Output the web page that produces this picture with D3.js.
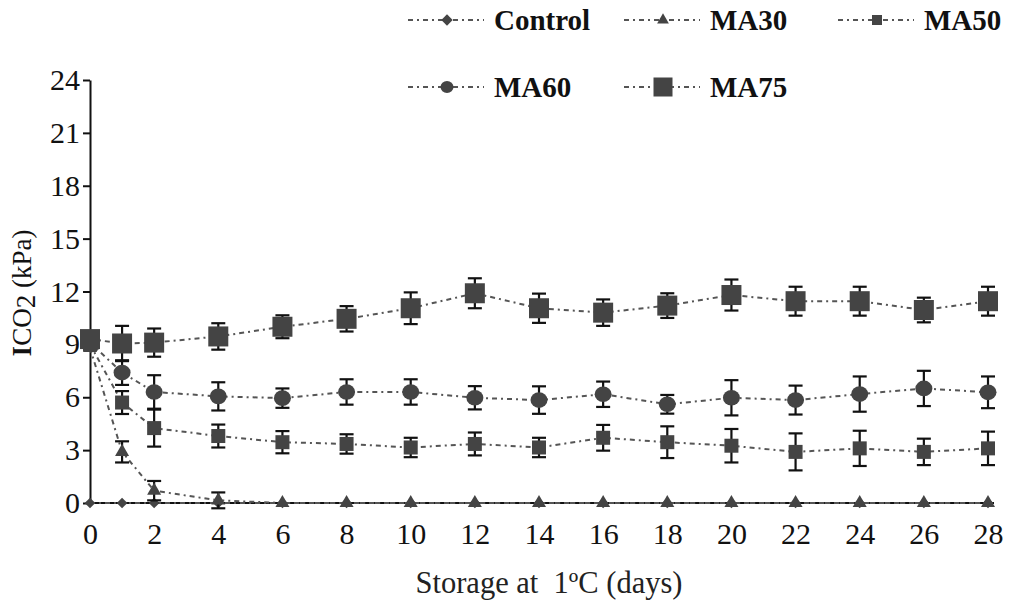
<!DOCTYPE html>
<html>
<head>
<meta charset="utf-8">
<script src="https://cdn.jsdelivr.net/npm/d3@7"></script>
<style>
  body { margin: 0; background: #fff; }
  text { font-family: "Liberation Serif", "DejaVu Serif", serif; }
</style>
</head>
<body>
<div class="chart"></div>
<script>
// dias de almacenamiento
var days = [0, 1, 2, 4, 6, 8, 10, 12, 14, 16, 18, 20, 22, 24, 26, 28];
var yTicks = [0, 3, 6, 9, 12, 15, 18, 21, 24];
var xTicks = [0, 2, 4, 6, 8, 10, 12, 14, 16, 18, 20, 22, 24, 26, 28];

var control = [0, 0, 0, 0, 0, 0, 0, 0, 0, 0, 0, 0, 0, 0, 0, 0];
var controlErr = [0, 0, 0, 0, 0, 0, 0, 0, 0, 0, 0, 0, 0, 0, 0, 0];
var ma30 = [8.8, 2.9, 0.7, 0.15, 0, 0, 0, 0, 0, 0, 0, 0, 0, 0, 0, 0];
var ma30Err = [0, 0.6, 0.55, 0.45, 0, 0, 0, 0, 0, 0, 0, 0, 0, 0, 0, 0];
var ma50 = [9.0, 5.7, 4.25, 3.8, 3.45, 3.35, 3.15, 3.35, 3.15, 3.7, 3.45, 3.25, 2.9, 3.1, 2.9, 3.1];
var ma50Err = [0, 0.65, 1.05, 0.65, 0.63, 0.55, 0.55, 0.65, 0.55, 0.73, 0.9, 0.95, 1.05, 1.0, 0.75, 0.95];
var ma60 = [9.1, 7.4, 6.3, 6.05, 5.95, 6.3, 6.3, 5.97, 5.84, 6.17, 5.6, 5.97, 5.84, 6.18, 6.5, 6.28];
var ma60Err = [0, 0.7, 0.95, 0.8, 0.55, 0.72, 0.72, 0.66, 0.78, 0.72, 0.53, 1.0, 0.82, 1.0, 1.0, 0.9];
var ma75 = [9.3, 9.05, 9.1, 9.45, 10.0, 10.45, 11.05, 11.9, 11.05, 10.8, 11.2, 11.8, 11.45, 11.45, 10.95, 11.45];
var ma75Err = [0, 1.0, 0.8, 0.75, 0.65, 0.72, 0.9, 0.85, 0.83, 0.75, 0.7, 0.88, 0.82, 0.82, 0.7, 0.82];

var width = 1009, height = 604;
var fill = "#444444";
var serif = "'Liberation Serif', 'Times New Roman', serif";

var svg = d3.select(".chart")
  .append("svg")
  .attr("width", width)
  .attr("height", height)
  .style("background", "#ffffff");

var x = d3.scaleLinear().domain([0, 28]).range([90, 988]);
var y = d3.scaleLinear().domain([0, 24]).range([503, 80]);

function sym(type, size) { return d3.symbol().type(type).size(size)(); }

var series = [
  { name: "Control", v: control, e: controlErr, shape: function(g, s) {
      g.append("rect").attr("x", -s/2).attr("y", -s/2).attr("width", s).attr("height", s)
        .attr("transform", "rotate(45)"); }, size: 7.5, legSize: 8 },
  { name: "MA30", v: ma30, e: ma30Err, shape: function(g, s) {
      g.append("path").attr("d", sym(d3.symbolTriangle, s)); }, size: 85, legSize: 60 },
  { name: "MA50", v: ma50, e: ma50Err, shape: function(g, s) {
      g.append("rect").attr("x", -s/2).attr("y", -s/2).attr("width", s).attr("height", s); }, size: 14, legSize: 10 },
  { name: "MA60", v: ma60, e: ma60Err, shape: function(g, s) {
      g.append("ellipse").attr("rx", s).attr("ry", s * 0.92); }, size: 8.5, legSize: 6.5 },
  { name: "MA75", v: ma75, e: ma75Err, shape: function(g, s) {
      g.append("rect").attr("x", -s/2).attr("y", -s/2).attr("width", s).attr("height", s); }, size: 20, legSize: 19 }
];

// ejes
var yAxis = svg.append("g")
  .attr("transform", "translate(90,0)")
  .call(d3.axisLeft(y).tickValues(yTicks).tickSize(7).tickSizeOuter(0).tickPadding(3));
yAxis.select(".domain").attr("stroke", "#111").attr("stroke-width", 2);
yAxis.selectAll(".tick line").attr("stroke", "#111").attr("stroke-width", 2);
yAxis.selectAll(".tick text")
  .style("font-family", serif).style("font-size", "30px").attr("fill", "#111");

var xAxis = svg.append("g")
  .attr("transform", "translate(0,503)")
  .call(d3.axisBottom(x).tickValues(xTicks).tickSize(0).tickSizeOuter(0).tickPadding(20));
xAxis.select(".domain").attr("stroke", "#111").attr("stroke-width", 2)
  .attr("d", "M90,0H994");
xAxis.selectAll(".tick text")
  .style("font-family", serif).style("font-size", "30px").attr("fill", "#111");

// lineas
var line = d3.line()
  .x(function(d) { return x(d[0]); })
  .y(function(d) { return y(d[1]); });

series.forEach(function(s) {
  var pts = days.map(function(d, i) { return [d, s.v[i], s.e[i]]; });
  svg.append("path")
    .datum(pts)
    .attr("d", line)
    .attr("fill", "none")
    .attr("stroke", "#555")
    .attr("stroke-width", 2)
    .attr("stroke-dasharray", "5,4,2,4");
});

series.forEach(function(s) {
  var pts = days.map(function(d, i) { return [d, s.v[i], s.e[i]]; });
  var eb = svg.append("g").selectAll("g")
    .data(pts.filter(function(p) { return p[2] > 0; }))
    .enter().append("g")
    .attr("stroke", "#111").attr("stroke-width", 2.2);
  eb.append("line")
    .attr("x1", function(d) { return x(d[0]); }).attr("x2", function(d) { return x(d[0]); })
    .attr("y1", function(d) { return y(d[1] + d[2]); }).attr("y2", function(d) { return y(d[1] - d[2]); });
  eb.append("line")
    .attr("x1", function(d) { return x(d[0]) - 7; }).attr("x2", function(d) { return x(d[0]) + 7; })
    .attr("y1", function(d) { return y(d[1] + d[2]); }).attr("y2", function(d) { return y(d[1] + d[2]); });
  eb.append("line")
    .attr("x1", function(d) { return x(d[0]) - 7; }).attr("x2", function(d) { return x(d[0]) + 7; })
    .attr("y1", function(d) { return y(d[1] - d[2]); }).attr("y2", function(d) { return y(d[1] - d[2]); });

  var m = svg.append("g").attr("fill", fill).selectAll("g")
    .data(pts)
    .enter().append("g")
    .attr("transform", function(d) { return "translate(" + x(d[0]) + "," + y(d[1]) + ")"; });
  m.each(function() { s.shape(d3.select(this), s.size); });
});

// leyenda
var legPos = [[408, 20], [624, 20], [838, 20], [408, 87], [624, 87]];
series.forEach(function(s, i) {
  var g = svg.append("g").attr("transform", "translate(" + legPos[i][0] + "," + legPos[i][1] + ")");
  g.append("line")
    .attr("x1", 0).attr("x2", 76).attr("y1", 0).attr("y2", 0)
    .attr("stroke", "#555").attr("stroke-width", 2)
    .attr("stroke-dasharray", "5,4,2,4");
  var mk = g.append("g").attr("fill", fill).attr("transform", "translate(39,0)");
  s.shape(mk, s.legSize);
  g.append("text")
    .attr("x", 86).attr("y", 10)
    .style("font-family", serif).style("font-size", "29px")
    .attr("font-weight", "bold").attr("fill", "#111")
    .text(s.name);
});

// titulos
var yl = svg.append("text")
  .attr("transform", "translate(31,293) rotate(-90)")
  .attr("text-anchor", "middle")
  .style("font-family", serif).style("font-size", "27px").attr("fill", "#111");
yl.append("tspan").attr("font-weight", "bold").text("I");
yl.append("tspan").text("CO");
yl.append("tspan").attr("dy", 4).text("2");
yl.append("tspan").attr("dy", -4).text(" (kPa)");

svg.append("text")
  .attr("x", 549).attr("y", 593)
  .attr("text-anchor", "middle")
  .style("font-family", serif).style("font-size", "30.5px").attr("fill", "#222")
  .text("Storage at\u00a0\u00a01ºC (days)");
</script>
</body>
</html>
